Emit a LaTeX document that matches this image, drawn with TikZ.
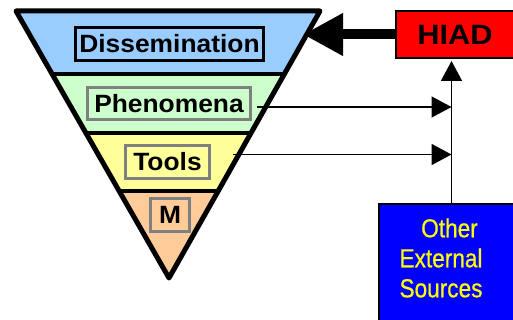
\documentclass[tikz,border=0pt]{standalone}
\usepackage{fontspec}
\setmainfont{Liberation Sans}
\newfontfamily\bandfont[FakeStretch=1.055]{Liberation Sans}
\newfontfamily\hiadfont[FakeStretch=1.1]{Liberation Sans}
\newfontfamily\extfont[FakeStretch=0.87,FakeBold=0.6]{Liberation Sans}
\usetikzlibrary{arrows.meta}
\usetikzlibrary{calc}
\usetikzlibrary{positioning}
\definecolor{dissblue}{HTML}{99CCFF}
\definecolor{phengreen}{HTML}{CCFFCC}
\definecolor{toolyellow}{HTML}{FFFF99}
\definecolor{morange}{HTML}{FFCC99}
\definecolor{labelgray}{HTML}{808080}
\definecolor{hiadred}{HTML}{FF0000}
\definecolor{extblue}{HTML}{0000FF}
\definecolor{extyellow}{HTML}{FFFF00}
\tikzset{
    band label/.style={
        draw,
        line width=3pt,
        inner sep=0pt,
        font=\bandfont\bfseries\fontsize{25}{30}\selectfont,
    },
    band line/.style={
        line width=4pt,
    },
    thin arrow/.style={
        line width=1.5pt,
        -{Triangle[length=20pt,width=21pt]},
    },
    thick arrow/.style={
        line width=10pt,
        -{Triangle[length=40pt,width=40pt]},
    },
    source box/.style={
        draw,
        line width=2pt,
        inner sep=0pt,
    },
}

\begin{document}
\begin{tikzpicture}[x=1pt,y=-1pt]
    \useasboundingbox (0,0) rectangle (513,320);
    \clip (0,0) rectangle (513,320);

    \coordinate (tl) at (16,11);
    \coordinate (tr) at (320,11);
    \coordinate (ap) at (169,278);
    \foreach \n/\f in {a/0.236,b/0.457,c/0.674}
    {
        \coordinate (l\n) at ($(tl)!\f!(ap)$);
        \coordinate (r\n) at ($(tr)!\f!(ap)$);
    }

    % bands
    \fill[dissblue] (tl) -- (tr) -- (ra) -- (la) -- cycle;
    \fill[phengreen] (la) -- (ra) -- (rb) -- (lb) -- cycle;
    \fill[toolyellow] (lb) -- (rb) -- (rc) -- (lc) -- cycle;
    \fill[morange] (lc) -- (rc) -- (ap) -- cycle;
    \draw[band line] (la) -- (ra);
    \draw[band line] (lb) -- (rb);
    \draw[band line] (lc) -- (rc);
    \draw[line width=5pt, line join=round] (tl) -- (tr) -- (ap) -- cycle;

    \node[band label, minimum width=188pt, minimum height=33pt] (diss) at (169.5,44) {Dissemination};
    \node[band label, draw=labelgray, minimum width=163pt, minimum height=32pt] (phen) at (169,103.5) {Phenomena};
    \node[band label, draw=labelgray, minimum width=84pt, minimum height=33pt] (tools) at (167.5,162) {Tools};
    \node[band label, draw=labelgray, minimum width=39pt, minimum height=33pt] (mlab) at (170,215) {M};

    \node[source box, fill=hiadred, minimum width=118pt, minimum height=47pt,
        font=\hiadfont\bfseries\fontsize{28}{34}\selectfont] (hiad) at (455,34.5) {HIAD};
    \node[source box, fill=extblue, anchor=north west, minimum width=145pt,
        minimum height=140pt] (ext) at (378,203) {};
    \node[text=extyellow, align=center, inner sep=0pt,
        font=\extfont\fontsize{26}{30}\selectfont] (exttext) at (441,258) {\hspace*{17pt}Other\\External\\Sources};

    \coordinate (phen out) at (257,107);
    \coordinate (tools out) at (233,154.5);
    \coordinate (diss in) at (303,34.5);

    \draw[thick arrow] (hiad.west) -- (diss in);
    \draw[thin arrow] (phen out) -- (ext.north |- phen out);
    \draw[thin arrow] (tools out) -- (ext.north |- tools out);
    \draw[thin arrow, shorten >=2pt] (ext.north) -- (ext.north |- hiad.south);

\end{tikzpicture}
\end{document}
